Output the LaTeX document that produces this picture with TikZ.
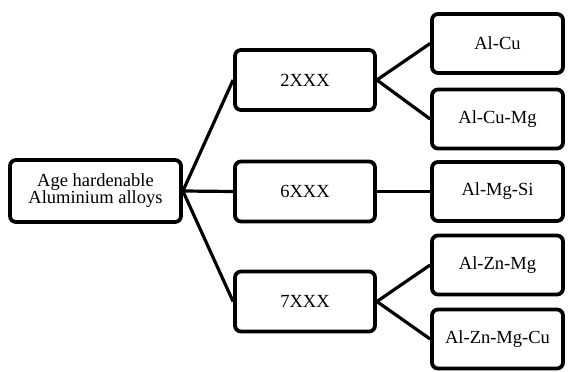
\documentclass[tikz,border=0pt]{standalone}
\usepackage{fontspec}
\setmainfont{Liberation Serif}
\usepackage{tikz}
\usetikzlibrary{positioning}

\begin{document}
\begin{tikzpicture}[
    x=1pt, y=-1pt,
    box/.style={rectangle, draw, line width=3.8pt, rounded corners=6pt, align=center,
        font=\fontsize{18.5}{17}\selectfont, inner sep=2pt},
    rootbox/.style={box, minimum width=171pt, minimum height=62pt},
    seriesbox/.style={box, minimum width=140pt, minimum height=60pt},
    alloybox/.style={box, minimum width=131pt, minimum height=59pt},
    link/.style={line width=3.2pt}
]
    \useasboundingbox (0,0) rectangle (568,372);

    % Nodes
    \node[rootbox] (root) at (95.5,191) {Age hardenable\\Aluminium alloys};

    \node[seriesbox] (s2) at (305,80) {2XXX};
    \node[seriesbox] (s6) at (305,191.5) {6XXX};
    \node[seriesbox] (s7) at (305,301.5) {7XXX};

    \node[alloybox] (alcu) at (497.5,43.5) {Al-Cu};
    \node[alloybox] (alcumg) at (497.5,119) {Al-Cu-Mg};
    \node[alloybox] (almgsi) at (497.5,191.5) {Al-Mg-Si};
    \node[alloybox] (alznmg) at (497.5,265) {Al-Zn-Mg};
    \node[alloybox] (alznmgcu) at (497.5,339) {Al-Zn-Mg-Cu};

    % Lines
    \draw[link] (root.east) -- (s2.west);
    \draw[link] (root.east) -- (s6.west);
    \draw[link] (root.east) -- (s7.west);
    \draw[link] (s2.east) -- (alcu.west);
    \draw[link] (s2.east) -- (alcumg.west);
    \draw[link] (s6.east) -- (almgsi.west);
    \draw[link] (s7.east) -- (alznmg.west);
    \draw[link] (s7.east) -- (alznmgcu.west);
\end{tikzpicture}
\end{document}
